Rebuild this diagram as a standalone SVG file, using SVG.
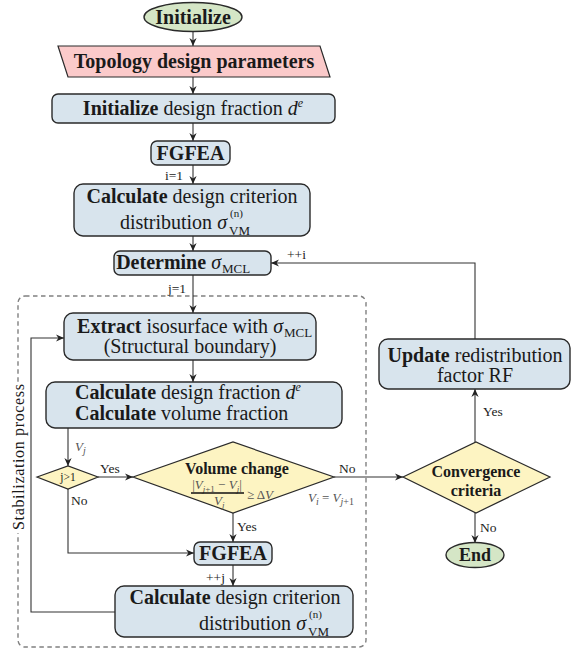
<svg xmlns="http://www.w3.org/2000/svg" width="571" height="656" viewBox="0 0 571 656">
  <defs>
    <marker id="ah" viewBox="0 0 10 10" refX="10" refY="5" markerWidth="8" markerHeight="8" markerUnits="userSpaceOnUse" orient="auto">
      <path d="M0,0.5 L10,5 L0,9.5 L3,5 Z" fill="#222"/>
    </marker>
    <style>
      text { font-family: "Liberation Serif", "Times New Roman", serif; fill: #1a1a1a; }
      .box { fill: #d8e4ed; stroke: #2a2a2a; stroke-width: 1.4; }
      .term { fill: #d5e6c6; stroke: #2a2a2a; stroke-width: 1.4; }
      .io { fill: #fbcaca; stroke: #2a2a2a; stroke-width: 1.2; }
      .dec { fill: #fdf4c2; stroke: #2a2a2a; stroke-width: 1.2; }
      .t { font-size: 20px; }
      .b { font-weight: bold; }
      .i { font-style: italic; }
      .lbl { font-size: 13.5px; fill: #222; }
      .math { font-size: 13px; fill: #555; }
      .sup { font-size: 11px; }
      .sub { font-size: 13px; }
      .wire { fill: none; stroke: #333; stroke-width: 1.1; }
      .arr { marker-end: url(#ah); }
    </style>
  </defs>

  <!-- stabilization loop frame -->
  <g id="stabilization">
    <rect x="18" y="296" width="348" height="351" rx="7" fill="none" stroke="#808080" stroke-width="1.4" stroke-dasharray="4.5,3.5"/>
    <rect x="9" y="383" width="18" height="150" fill="#fff"/>
    <text transform="translate(24,457) rotate(-90)" text-anchor="middle" font-size="16" textLength="146" fill="#222">Stabilization process</text>
  </g>

  <!-- connectors -->
  <g id="connectors">
    <path class="wire arr" d="M193,32 V46"/>
    <path class="wire arr" d="M193,77 V94"/>
    <path class="wire arr" d="M193,123 V141"/>
    <path class="wire arr" d="M193,165 V184"/>
    <path class="wire arr" d="M193,236 V251"/>
    <path class="wire arr" d="M193,275 V313"/>
    <path class="wire arr" d="M193,360 V382"/>
    <path class="wire arr" d="M68,428 V466"/>
    <path class="wire arr" d="M98,477 H133"/>
    <path class="wire arr" d="M334,477 H403"/>
    <path class="wire arr" d="M233,513 V542"/>
    <path class="wire arr" d="M68,489 V553 H194"/>
    <path class="wire arr" d="M233,565 V586"/>
    <path class="wire arr" d="M115,612 H31 V338 H64"/>
    <path class="wire arr" d="M475,442 V389"/>
    <path class="wire arr" d="M475,339 V263 H271"/>
    <path class="wire arr" d="M475,513 V543"/>

    <text class="lbl" x="165" y="180">i=1</text>
    <text class="lbl" x="287" y="259">++i</text>
    <text class="lbl" x="168" y="293">j=1</text>
    <text class="math" x="75" y="451"><tspan class="i">V</tspan><tspan font-size="10" dy="3" class="i">j</tspan></text>
    <text class="lbl" x="100" y="473">Yes</text>
    <text class="lbl" x="71" y="505">No</text>
    <text class="lbl" x="339" y="473">No</text>
    <text class="math" x="308" y="502"><tspan class="i">V</tspan><tspan font-size="10" dy="3" class="i">i</tspan><tspan dy="-3"> = </tspan><tspan class="i">V</tspan><tspan font-size="10" dy="3" class="i">j</tspan><tspan font-size="10">+1</tspan></text>
    <text class="lbl" x="237" y="531">Yes</text>
    <text class="lbl" x="206" y="582">++j</text>
    <text class="lbl" x="483" y="416">Yes</text>
    <text class="lbl" x="480" y="532">No</text>
  </g>

  <g id="initialize">
    <ellipse class="term" cx="193" cy="17" rx="49" ry="14.5"/>
    <text class="t b" x="193" y="24" text-anchor="middle">Initialize</text>
  </g>

  <g id="topology-parameters">
    <polygon class="io" points="58,46 320,46 330,77 68,77"/>
    <text class="t b" x="194" y="68" text-anchor="middle">Topology design parameters</text>
  </g>

  <g id="init-design-fraction">
    <rect class="box" x="52" y="94" width="283" height="29" rx="6"/>
    <text class="t" x="193" y="115" text-anchor="middle"><tspan class="b">Initialize</tspan> design fraction <tspan class="i">d</tspan><tspan font-size="12" dy="-8" class="i">e</tspan></text>
  </g>

  <g id="fgfea-1">
    <rect class="box" x="151" y="141" width="79" height="24" rx="6"/>
    <text class="t b" x="190.5" y="160" text-anchor="middle" font-size="19">FGFEA</text>
  </g>

  <g id="criterion-1">
    <rect class="box" x="74" y="184" width="236" height="52" rx="9"/>
    <text class="t" x="192" y="203" text-anchor="middle"><tspan class="b">Calculate</tspan> design criterion</text>
    <text class="t" x="227" y="229" text-anchor="end">distribution <tspan class="i">σ</tspan></text>
    <text class="sup" x="230" y="217">(n)</text>
    <text class="sub" x="229" y="235">VM</text>
  </g>

  <g id="determine-mcl">
    <rect class="box" x="114" y="251" width="157" height="24" rx="6"/>
    <text class="t" x="221" y="269" text-anchor="end"><tspan class="b">Determine</tspan> <tspan class="i">σ</tspan></text>
    <text class="sub" x="222" y="273">MCL</text>
  </g>

  <g id="extract-isosurface">
    <rect class="box" x="64" y="313" width="252" height="47" rx="9"/>
    <text class="t" x="283" y="333" text-anchor="end"><tspan class="b">Extract</tspan> isosurface with <tspan class="i">σ</tspan></text>
    <text class="sub" x="284" y="337">MCL</text>
    <text class="t" x="190" y="353" text-anchor="middle">(Structural boundary)</text>
  </g>

  <g id="calc-fractions">
    <rect class="box" x="46" y="382" width="296" height="46" rx="9"/>
    <text class="t" x="75" y="399"><tspan class="b">Calculate</tspan> design fraction <tspan class="i">d</tspan><tspan font-size="12" dy="-8" class="i">e</tspan></text>
    <text class="t" x="75" y="420"><tspan class="b">Calculate</tspan> volume fraction</text>
  </g>

  <g id="j-check">
    <polygon class="dec" points="37,477 68,466 98,477 68,489"/>
    <text x="68" y="481" text-anchor="middle" font-size="11.5" fill="#333">j&gt;1</text>
  </g>

  <g id="volume-change">
    <polygon class="dec" points="133,477 233,442 334,477 233,513"/>
    <text x="237" y="474" text-anchor="middle" font-size="16" class="b">Volume change</text>
    <text class="math" x="217" y="489" text-anchor="middle" font-size="12">|<tspan class="i">V</tspan><tspan font-size="9" dy="2.5" class="i">j</tspan><tspan font-size="9">+1</tspan><tspan dy="-2.5"> − </tspan><tspan class="i">V</tspan><tspan font-size="9" dy="2.5" class="i">j</tspan><tspan dy="-2.5">|</tspan></text>
    <line x1="191" y1="493" x2="244" y2="493" stroke="#111" stroke-width="1.6"/>
    <text class="math" x="214" y="505" font-size="12"><tspan class="i">V</tspan><tspan font-size="9" dy="2.5" class="i">j</tspan></text>
    <text class="math" x="247" y="499" font-size="12">≥ Δ<tspan class="i">V</tspan></text>
  </g>

  <g id="convergence">
    <polygon class="dec" points="403,477 476,442 550,477 476,513"/>
    <text x="476" y="477" text-anchor="middle" font-size="16" class="b">Convergence</text>
    <text x="476" y="496" text-anchor="middle" font-size="16" class="b">criteria</text>
  </g>

  <g id="update-rf">
    <rect class="box" x="379" y="339" width="191" height="50" rx="9"/>
    <text class="t" x="475" y="362" text-anchor="middle"><tspan class="b">Update</tspan> redistribution</text>
    <text class="t" x="475" y="382" text-anchor="middle">factor RF</text>
  </g>

  <g id="end">
    <ellipse class="term" cx="475" cy="555" rx="29" ry="12.5"/>
    <text x="475" y="561" text-anchor="middle" font-size="18" class="b">End</text>
  </g>

  <g id="fgfea-2">
    <rect class="box" x="194" y="542" width="78" height="23" rx="6"/>
    <text class="t b" x="233" y="560" text-anchor="middle" font-size="19">FGFEA</text>
  </g>

  <g id="criterion-2">
    <rect class="box" x="115" y="586" width="238" height="51" rx="9"/>
    <text class="t" x="235" y="604" text-anchor="middle"><tspan class="b">Calculate</tspan> design criterion</text>
    <text class="t" x="306" y="630" text-anchor="end">distribution <tspan class="i">σ</tspan></text>
    <text class="sup" x="309" y="618">(n)</text>
    <text class="sub" x="308" y="636">VM</text>
  </g>
</svg>
